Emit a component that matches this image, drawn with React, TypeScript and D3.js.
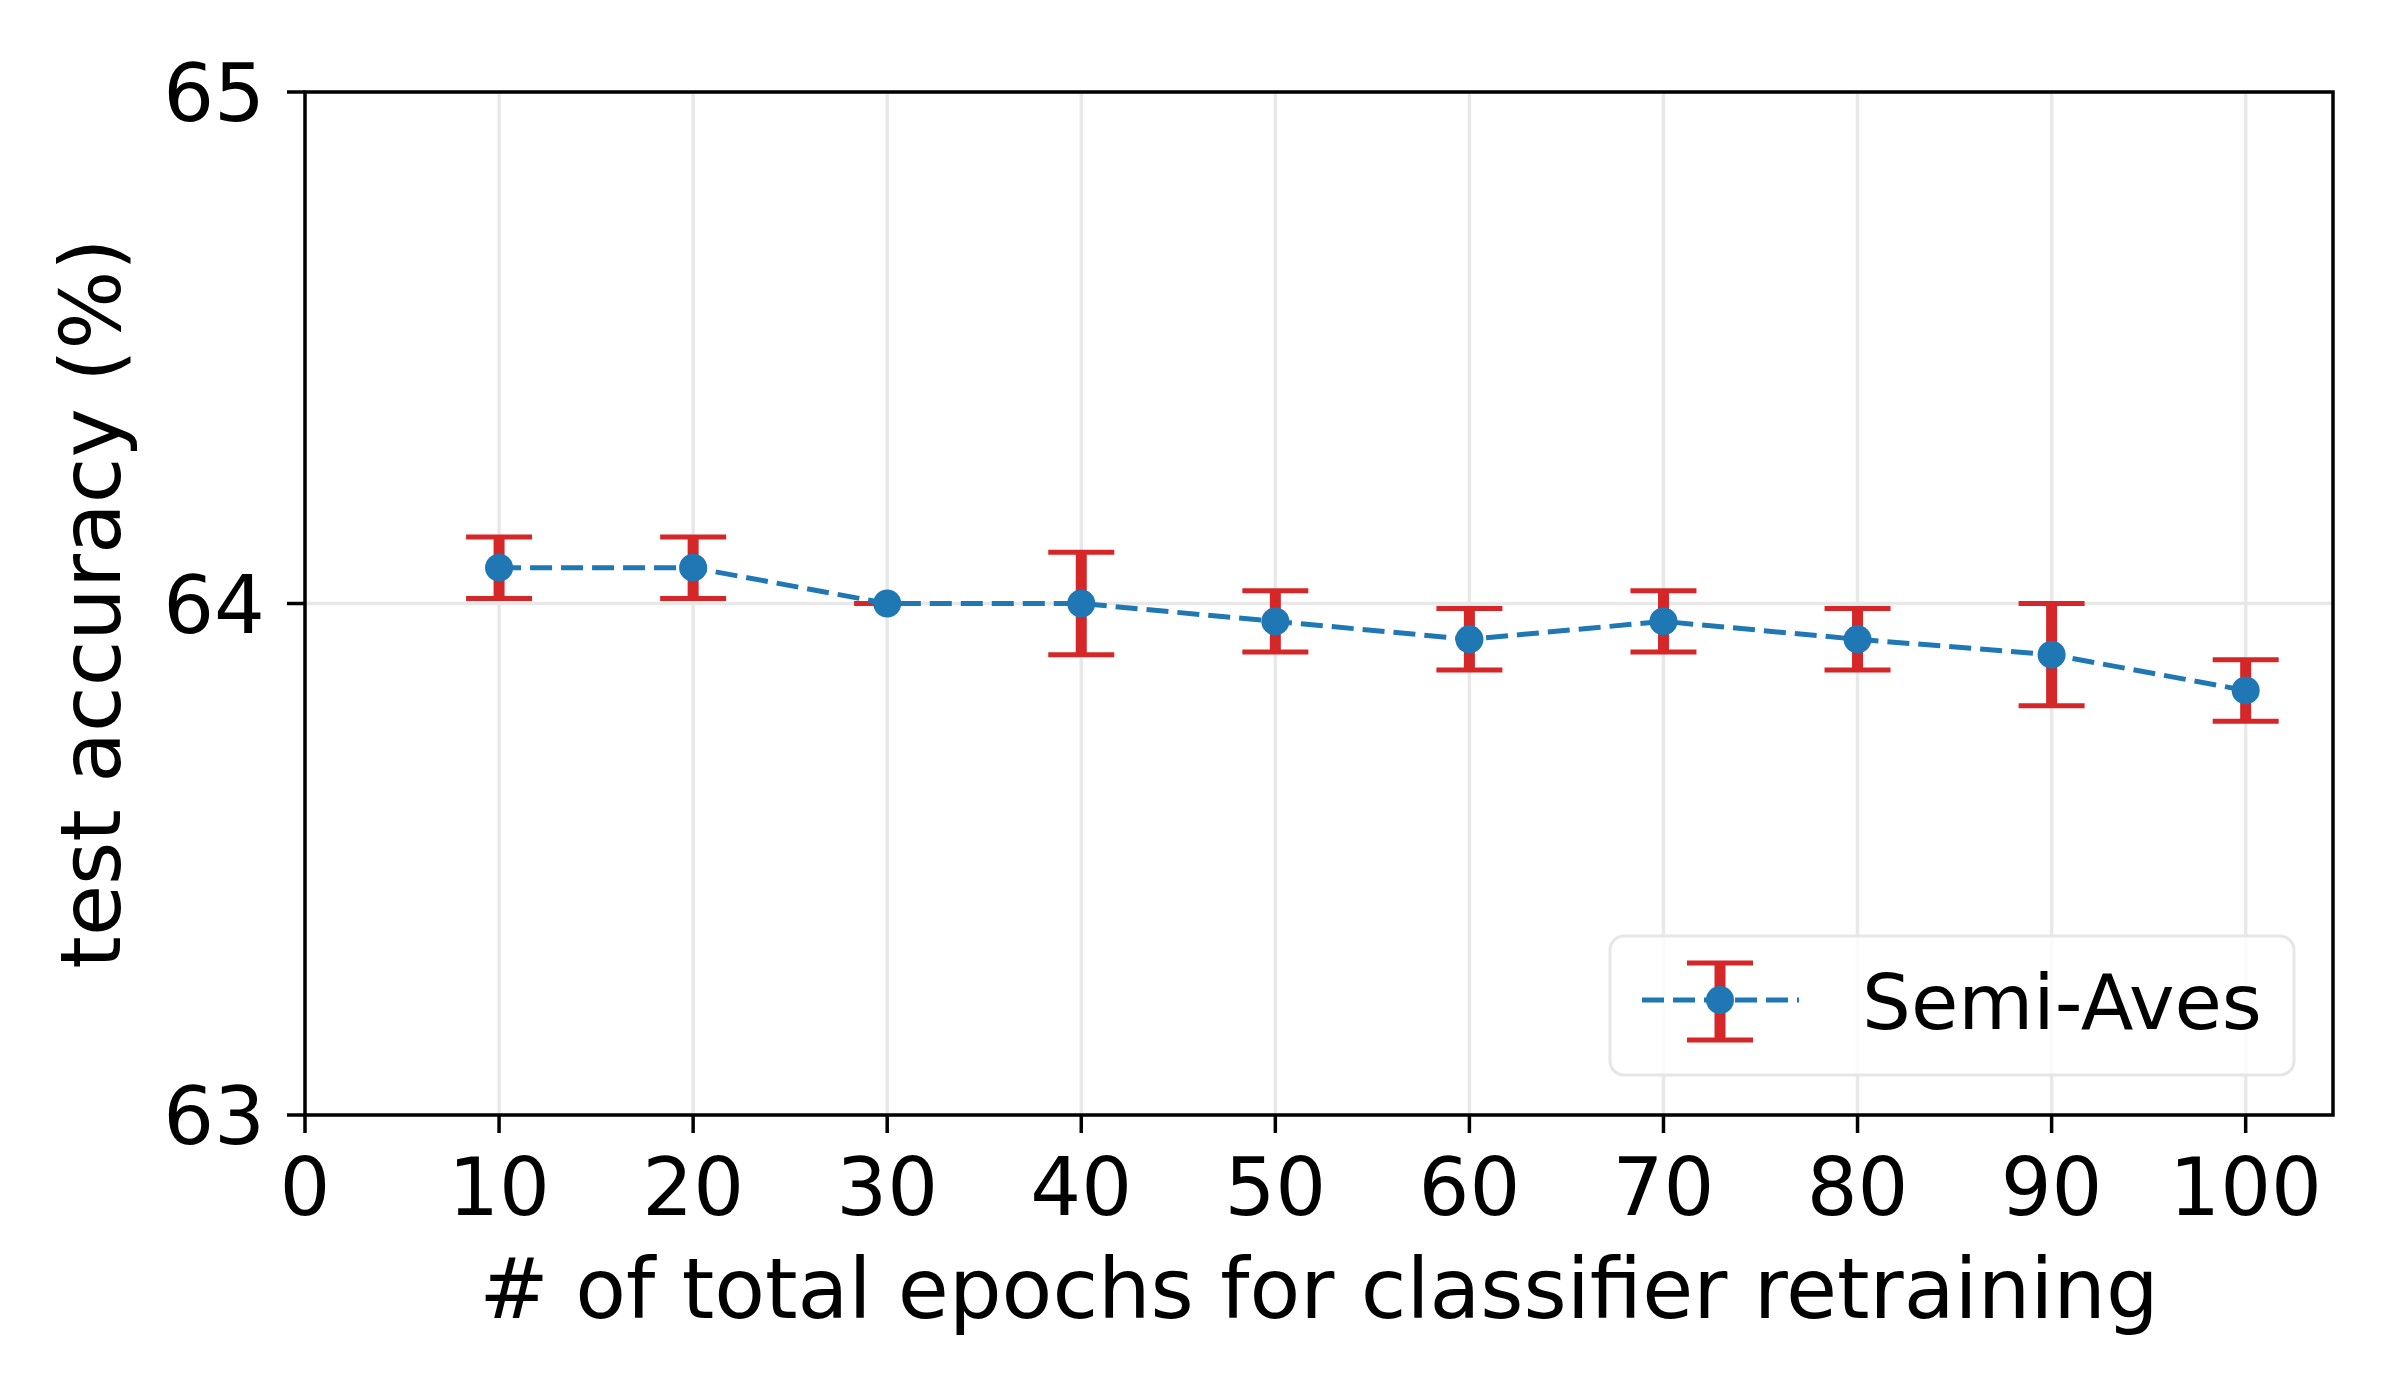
import React from "react";
import * as d3 from "d3";

const epochs = [10, 20, 30, 40, 50, 60, 70, 80, 90, 100];
const accuracy = [64.07, 64.07, 64.0, 64.0, 63.965, 63.93, 63.965, 63.93, 63.9, 63.83];
const errors = [0.06, 0.06, 0.0, 0.1, 0.06, 0.06, 0.06, 0.06, 0.1, 0.06];
const xTicks = [0, 10, 20, 30, 40, 50, 60, 70, 80, 90, 100];
const yTicks = [63, 64, 65];
const seriesName = "Semi-Aves";
const xLabel = "# of total epochs for classifier retraining";
const yLabel = "test accuracy (%)";

const W = 2392;
const H = 1395;
const L = 305, R = 2333, T = 92, B = 1115;
const FONT = "DejaVu Sans, sans-serif";
const FS = 80;
const FS_LABEL = 83;
const FS_LEGEND = 77;
const BLUE = "#1f77b4";
const RED = "#d62728";

export default function App() {
  const x = d3.scaleLinear().domain([0, 104.5]).range([L, R]);
  const y = d3.scaleLinear().domain([63, 65]).range([B, T]);
  const pts = epochs.map((e, i) => ({ e, v: accuracy[i], s: errors[i] }));
  const line = d3
    .line<{ e: number; v: number }>()
    .x((d) => x(d.e))
    .y((d) => y(d.v));
  const capHalf = 33;
  const lx1 = 1642, lx2 = 1799, ly = 1000, lcx = 1720;

  return (
    <svg
      width={W}
      height={H}
      style={{ position: "absolute", left: 0, top: 0, background: "#fff" }}
      fontFamily={FONT}
    >
      <rect x={0} y={0} width={W} height={H} fill="#fff" />
      {/* grid */}
      {xTicks.map((t) => (
        <line key={"gx" + t} x1={x(t)} x2={x(t)} y1={T} y2={B} stroke="#e8e8e8" strokeWidth={3.5} />
      ))}
      {yTicks.map((t) => (
        <line key={"gy" + t} x1={L} x2={R} y1={y(t)} y2={y(t)} stroke="#e8e8e8" strokeWidth={3.5} />
      ))}
      {/* error bars */}
      {pts.map((d, i) => (
        <g key={"eb" + i} stroke={RED}>
          <line x1={x(d.e)} x2={x(d.e)} y1={y(d.v + d.s)} y2={y(d.v - d.s)} strokeWidth={11} />
          <line x1={x(d.e) - capHalf} x2={x(d.e) + capHalf} y1={y(d.v + d.s)} y2={y(d.v + d.s)} strokeWidth={5} />
          <line x1={x(d.e) - capHalf} x2={x(d.e) + capHalf} y1={y(d.v - d.s)} y2={y(d.v - d.s)} strokeWidth={5} />
        </g>
      ))}
      {/* data line */}
      <path d={line(pts) || ""} fill="none" stroke={BLUE} strokeWidth={5} strokeDasharray="22,9" />
      {pts.map((d, i) => (
        <circle key={"m" + i} cx={x(d.e)} cy={y(d.v)} r={14} fill={BLUE} />
      ))}
      {/* spines */}
      <rect x={L} y={T} width={R - L} height={B - T} fill="none" stroke="#000" strokeWidth={3.5} />
      {/* x ticks */}
      {xTicks.map((t) => (
        <g key={"xt" + t}>
          <line x1={x(t)} x2={x(t)} y1={B} y2={B + 18} stroke="#000" strokeWidth={3.5} />
          <text x={x(t)} y={1215} textAnchor="middle" fontSize={FS} fill="#000">
            {t}
          </text>
        </g>
      ))}
      {/* y ticks */}
      {yTicks.map((t) => (
        <g key={"yt" + t}>
          <line x1={L - 18} x2={L} y1={y(t)} y2={y(t)} stroke="#000" strokeWidth={3.5} />
          <text x={265} y={y(t) + 29} textAnchor="end" fontSize={FS} fill="#000">
            {t}
          </text>
        </g>
      ))}
      {/* axis labels */}
      <text x={(L + R) / 2} y={1318} textAnchor="middle" fontSize={FS_LABEL} fill="#000">
        {xLabel}
      </text>
      <text
        transform={`translate(120, ${(T + B) / 2}) rotate(-90)`}
        textAnchor="middle"
        fontSize={FS_LABEL}
        fill="#000"
      >
        {yLabel}
      </text>
      {/* legend */}
      <rect x={1610} y={936} width={684} height={139} rx={14} ry={14} fill="#fff" fillOpacity={0.8} stroke="#e6e6e6" strokeWidth={3} />
      <g stroke={RED}>
        <line x1={lcx} x2={lcx} y1={963} y2={1040} strokeWidth={11} />
        <line x1={lcx - capHalf} x2={lcx + capHalf} y1={963} y2={963} strokeWidth={5} />
        <line x1={lcx - capHalf} x2={lcx + capHalf} y1={1040} y2={1040} strokeWidth={5} />
      </g>
      <line x1={lx1} x2={lx2} y1={ly} y2={ly} stroke={BLUE} strokeWidth={5} strokeDasharray="22,9" />
      <circle cx={lcx} cy={ly} r={14} fill={BLUE} />
      <text x={1862} y={1029} fontSize={FS_LEGEND} fill="#000">
        {seriesName}
      </text>
    </svg>
  );
}
